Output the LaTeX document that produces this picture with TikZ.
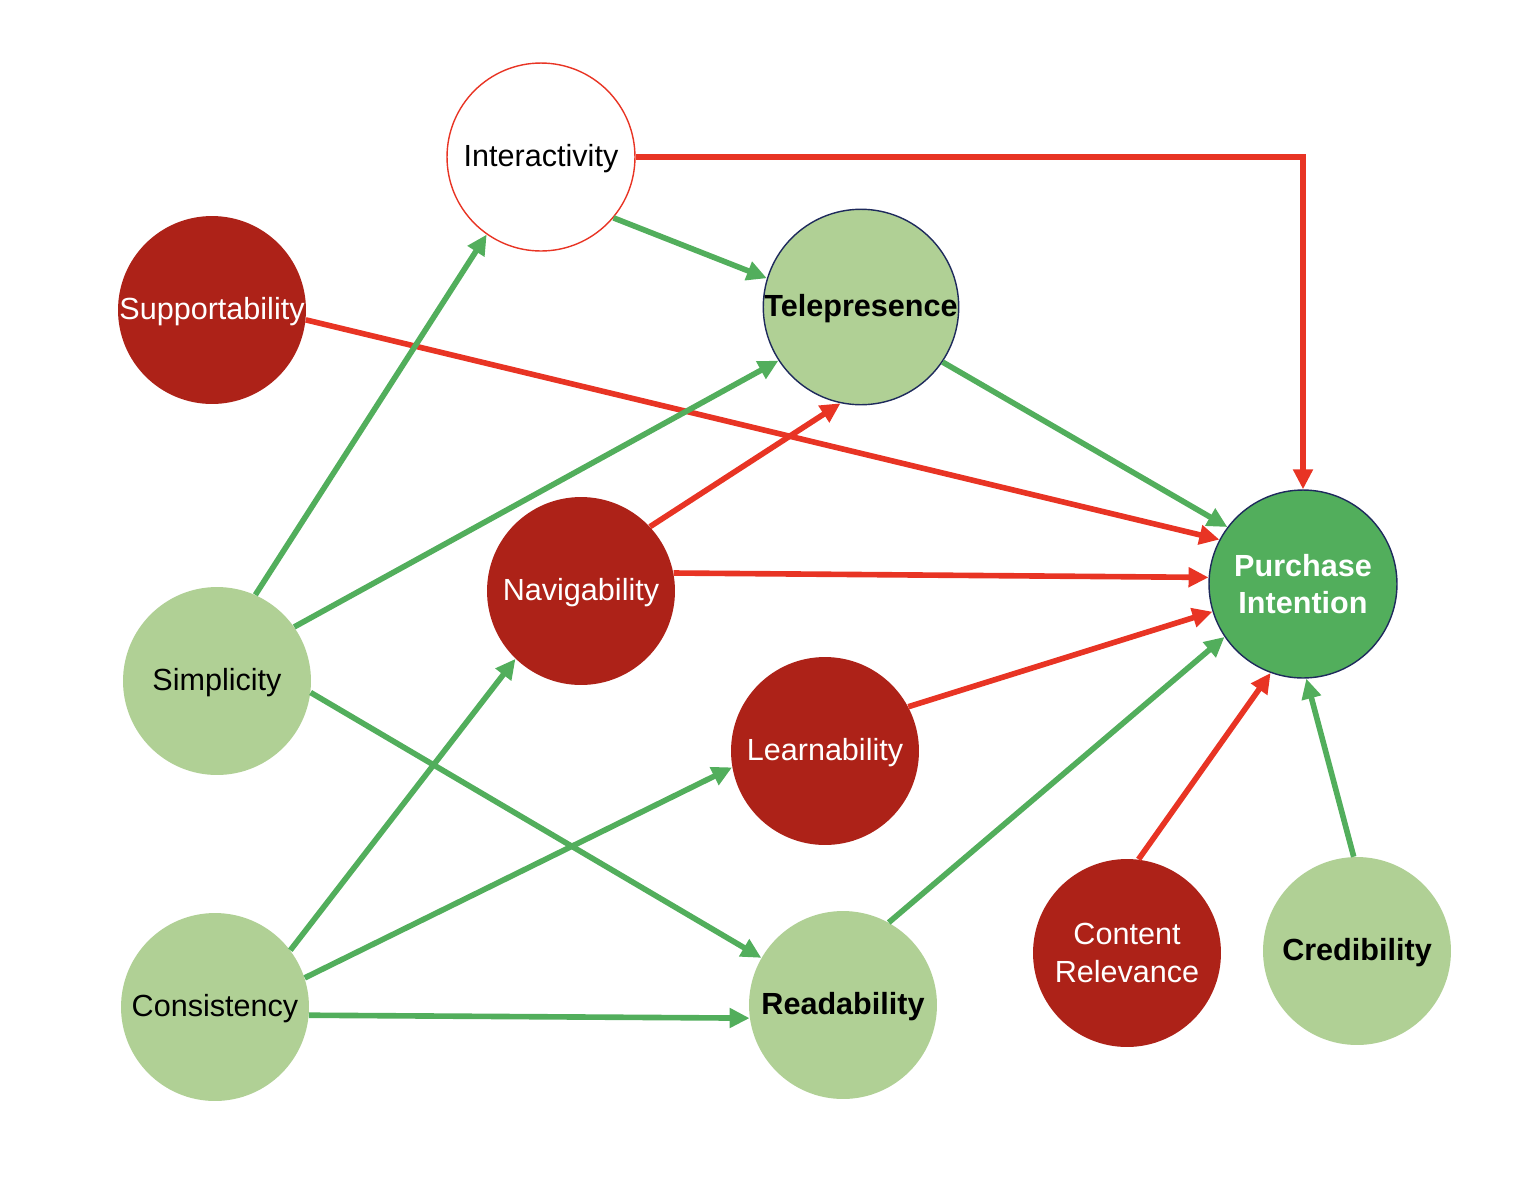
\documentclass[tikz,border=0pt]{standalone}
\usepackage{fontspec}
\setmainfont{Liberation Sans}
\usetikzlibrary{arrows.meta}
\definecolor{darkred}{HTML}{AD2218}
\definecolor{lightgreen}{HTML}{B0D095}
\definecolor{midgreen}{HTML}{52AE5C}
\definecolor{linered}{HTML}{E83424}
\definecolor{linegreen}{HTML}{52AE5C}
\definecolor{navy}{HTML}{1E2A5C}

\begin{document}
\begin{tikzpicture}[x=0.02cm, y=-0.02cm,
  factor/.style={circle, minimum size=3.76cm, inner sep=0pt, align=center,
    text height=0.5cm, text depth=0.12cm,
    font=\fontsize{17.4}{21.5}\selectfont},
  twolines/.style={text height={}, text depth={}},
  negative/.style={factor, fill=darkred, text=white},
  positive/.style={factor, fill=lightgreen, text=black},
  redline/.style={draw=linered, line width=3.2pt, -{Triangle[width=0.38cm,length=0.4cm]}},
  greenline/.style={draw=linegreen, line width=3.2pt, -{Triangle[width=0.38cm,length=0.4cm]}}]

\useasboundingbox (0,0) rectangle (1536,1178);

% nodes
\node [factor, draw=linered, line width=0.8pt, fill=white] (inter) at (541,157) {Interactivity};
\node [negative] (supp) at (212,310) {Supportability};
\node [positive, draw=navy, line width=0.8pt, minimum size=3.88cm, font=\fontsize{17.4}{21.5}\selectfont\bfseries] (tele) at (861,307) {Telepresence};
\node [factor, twolines, fill=midgreen, draw=navy, line width=0.8pt, text=white, font=\fontsize{17.4}{21.5}\selectfont\bfseries] (pi) at (1303,584) {Purchase\\Intention};
\node [positive] (simp) at (217,681) {Simplicity};
\node [negative] (nav) at (581,591) {Navigability};
\node [negative] (learn) at (825,751) {Learnability};
\node [positive] (cons) at (215,1007) {Consistency};
\node [positive, font=\fontsize{17.4}{21.5}\selectfont\bfseries] (read) at (843,1005) {Readability};
\node [negative, twolines] (cont) at (1127,953) {Content\\Relevance};
\node [positive, font=\fontsize{17.4}{21.5}\selectfont\bfseries] (cred) at (1357,951) {Credibility};

% red paths
\draw [redline] (inter.east) -| (pi.north);
\draw [redline] (supp.-6) -- (pi.152);
\draw [redline] (nav.43) -- (tele.-102);
\draw [redline] (nav.11) -- (pi.176);
\draw [redline] (learn.28) -- (pi.197);
\draw [redline] (cont.83) -- (pi.-110);

% green paths
\draw [greenline] (inter.-40) -- (tele.163);
\draw [greenline] (simp.66) -- (inter.-125);
\draw [greenline] (simp.35) -- (tele.-147);
\draw [greenline] (simp.-7) -- (read.150);
\draw [greenline] (tele.-34) -- (pi.143);
\draw [greenline] (read.61) -- (pi.-146);
\draw [greenline] (cons.37) -- (nav.-134);
\draw [greenline] (cons.18) -- (learn.190);
\draw [greenline] (cons.-5) -- (read.188);
\draw [greenline] (cred.92) -- (pi.-88);

\end{tikzpicture}
\end{document}
